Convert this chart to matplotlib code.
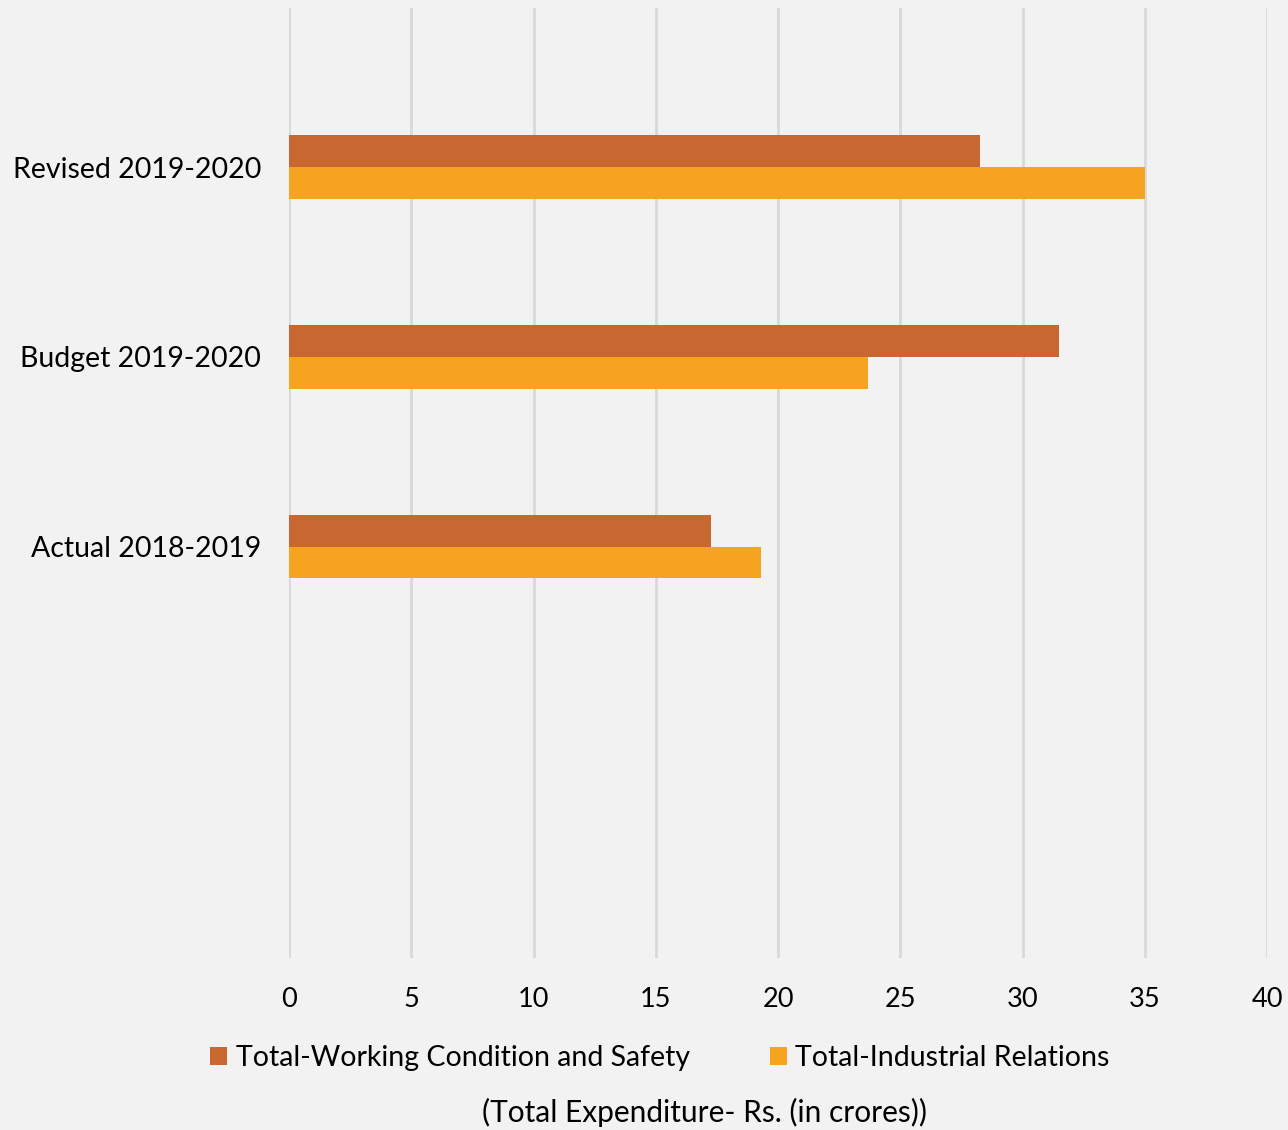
import matplotlib
matplotlib.use("Agg")
import matplotlib.pyplot as plt
import numpy as np

categories = ["Actual 2018-2019", "Budget 2019-2020", "Revised 2019-2020"]
working_condition_safety = [17.25, 31.5, 28.25]
industrial_relations = [19.3, 23.7, 35.0]
series_labels = ["Total-Working Condition and Safety", "Total-Industrial Relations"]
x_ticks = [0, 5, 10, 15, 20, 25, 30, 35, 40]
x_label = "(Total Expenditure- Rs. (in crores))"

bg = "#f2f2f2"
c_dark = "#c8672f"
c_orange = "#f6a41f"

plt.rcParams["font.family"] = ["Lato", "DejaVu Sans"]

fig = plt.figure(figsize=(12.88, 11.30), dpi=100, facecolor=bg)
ax = fig.add_axes([289 / 1288, 1 - 958 / 1130, (1267 - 289) / 1288, 950 / 1130])
ax.set_facecolor(bg)

y = np.arange(len(categories))
h = 0.168
b1 = ax.barh(y + h / 2, working_condition_safety, height=h, color=c_dark,
             label=series_labels[0], zorder=3)
b2 = ax.barh(y - h / 2, industrial_relations, height=h, color=c_orange,
             label=series_labels[1], zorder=3)

ax.set_xlim(0, 40)
ax.set_ylim(-2.17, 2.84)
ax.set_xticks(x_ticks)
ax.set_xticklabels([str(t) for t in x_ticks], fontsize=19.5)
ax.set_yticks(y)
ax.set_yticklabels(categories, fontsize=20.5)
ax.tick_params(axis="both", length=0, colors="black")
ax.tick_params(axis="x", pad=21)
ax.tick_params(axis="y", pad=20)

ax.grid(axis="x", color="#d9d9d9", linewidth=2, zorder=0)
for s in ax.spines.values():
    s.set_visible(False)

fig.legend(handles=[b1, b2], labels=series_labels, loc="center",
           bbox_to_anchor=(660 / 1288, 1 - 1058 / 1130), ncol=2, frameon=False,
           fontsize=20.5, handlelength=0.6, handleheight=0.6, handletextpad=0.3,
           columnspacing=2.8)

fig.text(704 / 1288, 1 - 1112 / 1130, x_label, ha="center", va="center", fontsize=21.5)

fig.savefig("out.png", dpi=100, facecolor=bg)
